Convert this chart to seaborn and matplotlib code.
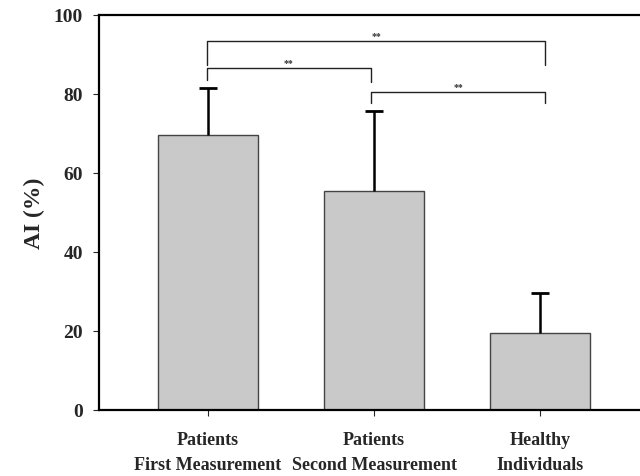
import numpy as np
import pandas as pd
import seaborn as sns
import matplotlib.pyplot as plt

groups = ['Patients\nFirst Measurement', 'Patients\nSecond Measurement', 'Healthy\nIndividuals']
means = [69.5, 55.5, 19.5]
upper = [81.6, 75.8, 29.7]

# significance brackets: (left bar, right bar, top level, leg bottom left, leg bottom right, label)
brackets = [
    (0, 2, 93.3, 87.3, 87.4, '**'),
    (0, 1, 86.5, 83.5, 83.0, '**'),
    (1, 2, 80.4, 77.7, 77.7, '**'),
]


def main():
    sns.set_style('ticks')
    plt.rcParams['font.family'] = ['Liberation Serif', 'DejaVu Serif']
    plt.rcParams['font.weight'] = 'bold'

    df = pd.DataFrame({'group': groups, 'value': means})

    fig = plt.figure(figsize=(6.4, 4.77), dpi=100)
    ax = fig.add_axes([0.1547, 0.1384, 0.8453, 0.8281])

    sns.barplot(data=df, x='group', y='value', color='#c9c9c9', saturation=1,
                width=0.6, edgecolor='#444444', linewidth=1.0, ax=ax, errorbar=None)

    x = np.arange(len(groups))
    err = np.array(upper) - np.array(means)
    eb = ax.errorbar(x, means, yerr=[np.zeros(len(err)), err], fmt='none',
                     ecolor='black', elinewidth=1.8, capsize=6.5, capthick=2.0)
    # only the upper cap is shown
    eb[1][0].set_visible(False)

    xoff = {0: -0.005, 1: -0.02, 2: 0.03}
    for a, b, top, la, lb, lab in brackets:
        xa, xb = x[a] + xoff[a], x[b] + xoff[b]
        ax.plot([xa, xa, xb, xb], [la, top, top, lb], color='#222222', lw=1.0)
        ax.text((xa + xb) / 2, top + 0.4, lab, ha='center', va='bottom',
                fontsize=7, color='#333333')

    ax.set_xlim(-0.655, 2.6)
    ax.set_ylim(0, 100)
    ax.set_yticks([0, 20, 40, 60, 80, 100])
    ax.set_xlabel('')
    ax.set_ylabel('AI (%)', fontsize=17, fontweight='bold', labelpad=6)

    for s in ['left', 'bottom', 'top']:
        ax.spines[s].set_linewidth(1.6)
        ax.spines[s].set_color('black')
    ax.spines['right'].set_visible(False)

    ax.tick_params(axis='y', direction='out', length=4.5, width=0.8, pad=7, labelsize=14)
    ax.tick_params(axis='x', direction='out', length=4, width=0.8, pad=11, labelsize=13)
    for lbl in ax.get_xticklabels():
        lbl.set_fontweight('bold')
        lbl.set_linespacing(1.65)
    for lbl in ax.get_yticklabels():
        lbl.set_fontweight('bold')

    fig.savefig('out.png', dpi=100)
    plt.close(fig)


if __name__ == '__main__':
    main()
